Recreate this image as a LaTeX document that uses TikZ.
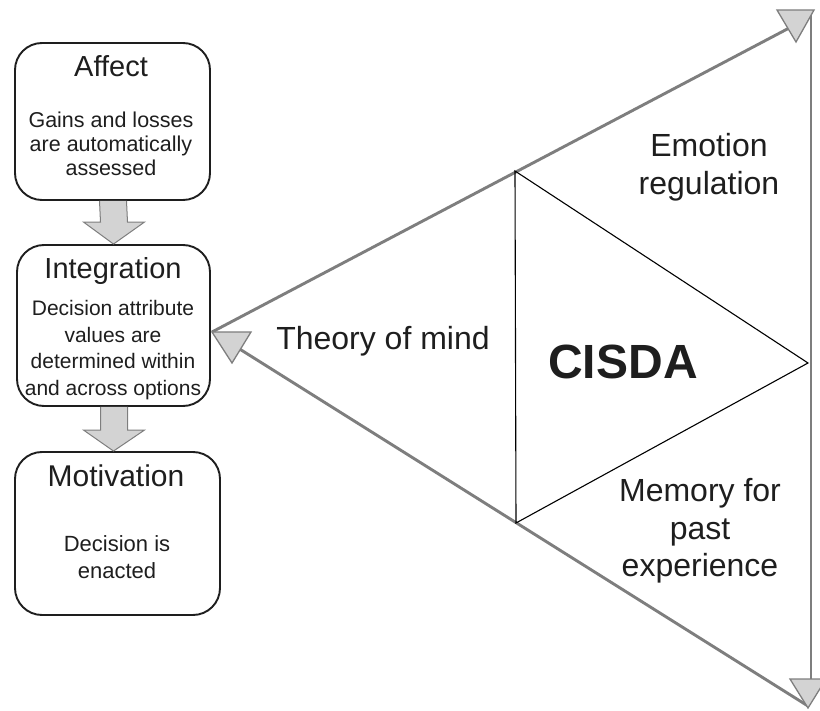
\documentclass[tikz,border=0pt]{standalone}
\usepackage{fontspec}
\setmainfont{Liberation Sans}
\usetikzlibrary{calc}
\definecolor{ink}{HTML}{1E1E1E}
\definecolor{framegray}{HTML}{7E7E7E}
\definecolor{headfill}{HTML}{D3D3D3}
\begin{document}
\begin{tikzpicture}[x=1pt,y=-1pt,
  stage/.style={draw=ink, line width=1.9pt, rounded corners=27pt, inner sep=0pt},
  heading/.style={text=ink, inner sep=0pt, font=\fontsize{29}{34}\selectfont},
  body/.style={text=ink, inner sep=0pt, align=center, font=\fontsize{21.5}{24}\selectfont},
  label/.style={text=ink, inner sep=0pt, align=center, font=\fontsize{32}{37.5}\selectfont},
  flow/.style={fill=headfill, draw=framegray, line width=1pt, line join=miter},
  frame/.style={draw=framegray, line width=2.9pt},
  tiphead/.style={fill=headfill, draw=framegray, line width=1.3pt, line join=miter},
  core/.style={draw=black, line width=1.1pt}]
\useasboundingbox (0,0) rectangle (820,711);

% stage boxes on the left
\node[stage, minimum width=195pt, minimum height=157pt] (affect) at (112.5,121.5) {};
\node[stage, minimum width=193pt, minimum height=161pt] (integ) at (113.5,325.5) {};
\node[stage, minimum width=205pt, minimum height=163pt] (motiv) at (117.5,533.5) {};

\node[heading] (affectT) at (111,66) {Affect};
\node[body] (affectB) at (111,144) {Gains and losses\\are automatically\\assessed};

\node[heading] (integT) at (113,271) {Integration};
\node[body, font=\fontsize{21}{26.5}\selectfont] (integB) at (113,350) {Decision attribute\\values are\\determined within\\and across options};

\node[heading, font=\fontsize{30}{34}\selectfont] (motivT) at (116,476) {Motivation};
\node[body, font=\fontsize{22}{27}\selectfont] (motivB) at (117,557) {Decision is\\enacted};

% block arrows between the stages
\filldraw[flow] ($(affect.south)+(-13,0)$) -- ($(integ.north)+(-13,-22)$) -- ($(integ.north)+(-30,-22)$)
  -- (integ.north) -- ($(integ.north)+(31,-22)$) -- ($(integ.north)+(14,-22)$) -- ($(affect.south)+(14,0)$);
\filldraw[flow] ($(integ.south)+(-13,0)$) -- ($(motiv.north)+(-17,-21)$) -- ($(motiv.north)+(-34,-21)$)
  -- ($(motiv.north)+(-4,0)$) -- ($(motiv.north)+(27,-21)$) -- ($(motiv.north)+(10,-21)$) -- ($(integ.south)+(14,0)$);

% outer triangle with its three heads
\coordinate (L) at (212,332);
\coordinate (Lin) at (238,348);
\coordinate (Tend) at (793,26);
\coordinate (Rtop) at (811,11);
\coordinate (Rbot) at (811,684);
\coordinate (B) at (808,706);
\draw[frame] (L) -- (Tend);
\draw[frame] (Rtop) -- (Rbot);
\draw[frame] (Lin) -- (B);
\filldraw[tiphead] (777,10) -- (814,10) -- (796,42) -- cycle;
\filldraw[tiphead] (L) -- (251,332) -- (232,363) -- cycle;
\filldraw[tiphead] (790,679) -- (826,679) -- (808,708) -- cycle;

% inner triangle
\coordinate (Ia) at (515,171);
\coordinate (Ib) at (516,523);
\coordinate (Ic) at (808,363);
\draw[core] (Ia) -- (Ib) -- (Ic) -- cycle;

% labels
\node[label] (emotion) at (709,167) {Emotion\\regulation};
\node[label] (tom) at (383,341) {Theory of mind};
\node[text=ink, inner sep=0pt, font=\fontsize{48}{52}\selectfont\bfseries] (cisda) at (623,362) {CISDA};
\node[label] (memory) at (700,531) {Memory for\\past\\experience};
\end{tikzpicture}
\end{document}
